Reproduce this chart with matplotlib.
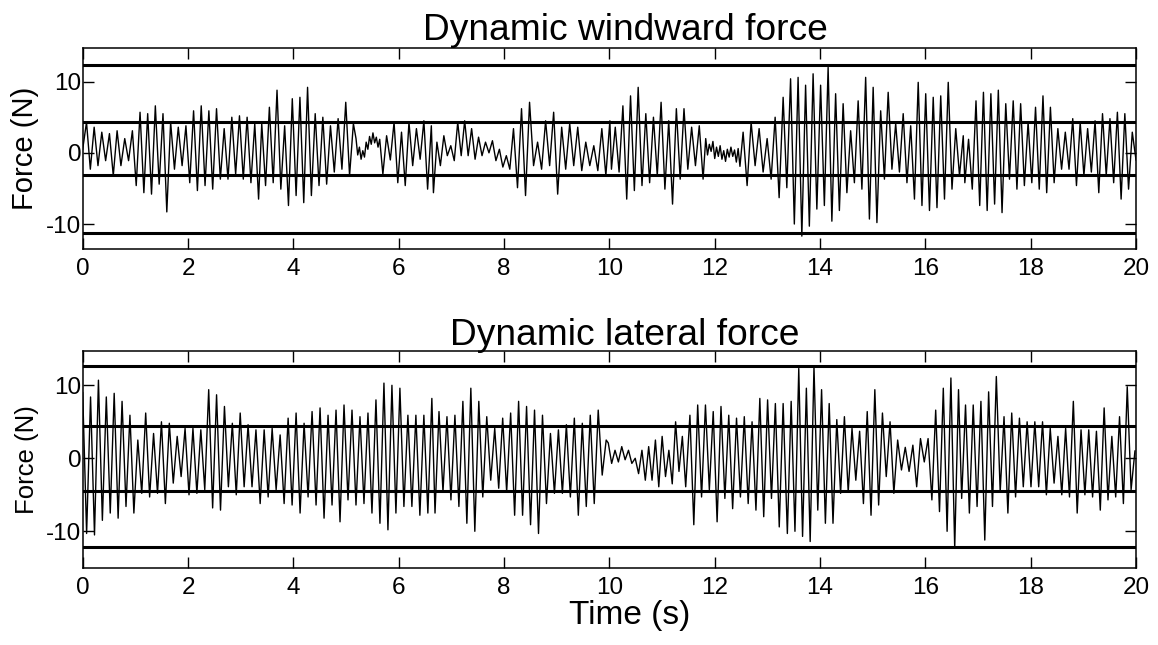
import numpy as np
import matplotlib.pyplot as plt

plt.rcParams['font.family'] = ['Liberation Sans', 'DejaVu Sans']
plt.rcParams['axes.unicode_minus'] = False

# peak / trough values of the windward force, segment by segment
wind_bounds = [(0.0, 3.34), (3.40, 5.14), (5.19, 5.64), (5.70, 6.62), (6.66, 8.11),
               (8.18, 10.01), (10.04, 11.78), (11.83, 12.48), (12.54, 13.30),
               (13.37, 16.72), (16.75, 20.0)]
wind_a = [0.5, 4.3, -2.3, 3.6, -1.8, 2.9, -1.1, 2.7, -3.2, 3.1, -1.8, 2.0, -1.1, 3.1, -4.6, 5.7,
          -5.6, 5.5, -5.8, 6.6, -4.4, 5.5, -8.3, 4.3, -2.3, 3.6, -1.8, 3.8, -4.2, 5.9, -5.3, 6.6,
          -4.6, 5.9, -5.1, 6.2, -3.7, 3.4, -3.7, 5.0, -3.0, 5.2, -3.7, 5.0, -4.2, 4.1, -6.5]
wind_b = [4.1, -4.6, 6.4, -4.2, 8.8, -5.1, 3.8, -7.4, 7.6, -6.0, 7.8, -7.0, 9.2, -6.0, 5.5, -4.6,
          5.0, -4.4, 3.8, -2.7, 4.8, -2.3, 7.1, -3.2, 4.1]
wind_c = [2.0, -0.3, 0.8, -0.9, 0.3, -0.6, 1.5, 0.5, 2.3, 1.2, 2.8, 1.4, 2.2, 0.8, 1.9]
wind_d = [-3.0, 2.4, -1.0, 4.3, -4.2, 2.9, -4.6, 4.3, -1.8, 3.4, -0.9, 4.5, -5.1, 3.8]
wind_e = [-5.6, 1.5, -1.8, 2.4, -0.4, 1.0, -1.1, 4.3, -0.4, 4.5, -0.4, 3.4, -0.9, 2.2, -0.4,
          1.5, 0.0, 1.7, -1.1, 0.5, -2.0, -0.4, -2.3]
wind_f = [3.4, -4.9, 6.2, -6.0, 7.1, -1.8, 1.5, -2.3, 4.5, -1.8, 5.7, -5.8, 3.6, -2.3, 4.1, -1.8,
          3.6, -2.5, 1.5, -1.8, 1.0, -2.5, 3.4, -3.2, 4.5]
wind_g = [-2.3, 3.6, -2.7, 6.6, -6.5, 8.0, -5.3, 9.2, -4.6, 5.5, -4.2, 5.0, -3.2, 7.1, -5.1, 4.5,
          -7.2, 6.2, -3.7, 6.2, -2.3, 3.6, -1.8, 3.8, -3.7]
wind_h = [2.0, -0.3, 1.2, 0.2, 1.6, -0.8, 0.8, -0.5, 1.0, -0.9, 0.3, -1.2, 0.5, -0.6, 0.8, -0.5,
          0.4, -1.3, 0.6, -1.9]
wind_i = [2.9, -4.6, 4.3, -1.8, 3.4, -2.7, 2.0, -3.7, 5.0, -6.3, 7.8]
wind_j = [-4.9, 10.4, -10.0, 10.6, -11.7, 9.5, -10.3, 11.1, -7.9, 9.5, -7.4, 12.0, -9.6, 8.3,
          -8.1, 6.9, -5.6, 3.1, -4.2, 7.3, -5.1, 10.6, -9.3, 9.2, -9.8, 5.9, -3.7, 8.5, -2.3,
          4.1, -2.7, 5.5, -4.2, 3.8, -6.5, 9.9, -7.4, 8.3, -8.1, 7.8, -7.7, 8.0, -6.5, 9.9,
          -5.1, 3.4, -3.2, 2.4]
wind_k = [-4.2, 1.9, -5.1, 7.3, -7.4, 8.5, -8.1, 8.3, -7.2, 8.8, -8.4, 6.9, -3.7, 7.3, -5.1,
          6.9, -4.6, 4.3, -4.2, 6.4, -5.1, 8.0, -5.6, 6.4, -4.2, 3.4, -2.3, 2.9, -2.3, 4.8, -4.6,
          4.3, -3.2, 3.4, -2.7, 4.5, -5.6, 5.5, -3.2, 4.8, -4.2, 5.7, -6.5, 5.5, -5.1, 2.9, -1.0]
wind_segs = [wind_a, wind_b, wind_c, wind_d, wind_e, wind_f, wind_g, wind_h, wind_i, wind_j, wind_k]

# peak / trough values of the lateral force
lat_bounds = [(0.0, 3.29), (3.37, 6.63), (6.69, 9.94), (9.98, 11.45), (11.53, 13.30),
              (13.38, 16.63), (16.69, 19.98)]
lat_a = [9.0, -10.3, 8.4, -10.5, 10.7, -8.5, 8.4, -7.5, 8.9, -8.2, 7.8, -6.6, 5.9, -7.5, 2.5,
         -4.8, 6.2, -5.3, 3.4, -4.8, 5.0, -6.2, 4.8, -3.4, 3.0, -2.5, 4.1, -5.0, 4.1, -4.8, 3.9,
         -4.3, 9.4, -6.8, 8.7, -7.1, 7.1, -3.9, 4.8, -5.0, 6.2, -3.9, 4.6, -3.9, 3.9]
lat_b = [-6.2, 3.9, -5.3, 4.1, -4.3, 3.2, -6.2, 5.5, -6.4, 6.2, -7.5, 4.8, -5.3, 6.4, -6.4, 6.9,
         -8.2, 5.9, -6.4, 6.6, -8.7, 7.3, -5.7, 6.6, -6.4, 5.7, -6.2, 6.2, -7.5, 8.0, -8.9, 10.3,
         -9.8, 10.0, -7.5, 9.6, -6.6, 5.9, -6.6, 5.9, -7.8, 5.9, -7.5, 8.2]
lat_c = [-7.5, 6.4, -4.6, 5.7, -5.7, 5.9, -6.6, 7.8, -8.9, 9.6, -10.0, 7.8, -5.3, 5.7, -3.0, 4.1,
         -4.1, 5.5, -4.6, 6.2, -7.8, 7.8, -7.8, 7.1, -9.1, 6.6, -10.3, 5.9, -6.2, 3.4, -4.8, 3.9,
         -4.8, 4.6, -5.3, 5.5, -7.8, 4.8, -6.6, 5.9, -6.2, 6.6, -2.3, 2.5]
lat_d = [2.1, -0.7, 1.1, -0.5, 1.6, -0.2, 1.1, -0.7, 0.0, -2.1, 1.1, -3.0, 1.6, -3.0, 2.5, -3.9,
         3.0, -2.5, 1.1, -3.5, 5.0, -1.8, 3.0, -3.9]
lat_e = [5.9, -9.1, 7.3, -5.3, 7.3, -4.3, 6.4, -8.7, 7.1, -5.5, 5.9, -6.9, 5.5, -5.3, 5.7, -6.2,
         5.0, -7.1, 8.2, -8.0, 8.0, -5.5, 7.5, -9.4, 7.5]
lat_f = [-10.3, 7.8, -10.0, 12.3, -10.7, 9.6, -11.4, 12.6, -7.1, 9.4, -8.9, 7.5, -8.9, 5.3, -4.8,
         5.7, -4.6, 4.1, -3.0, 3.7, -6.2, 6.4, -7.8, 9.4, -6.4, 6.2, -2.5, 5.0, -4.8, 2.5, -1.6,
         1.5, -1.8, 1.8, -3.9, 2.7, -0.5, 2.7, -5.7, 6.6, -7.3, 9.6, -10.0, 11.0, -12.3, 9.4]
lat_g = [-5.5, 7.3, -7.5, 7.3, -6.6, 7.8, -11.2, 9.1, -6.6, 11.2, -4.6, 5.7, -7.5, 6.2, -5.3, 5.5,
         -3.9, 5.0, -3.9, 5.0, -3.9, 5.0, -5.0, 4.1, -3.4, 3.0, -5.0, 4.1, -5.3, 7.8, -7.5, 3.9,
         -5.0, 3.9, -5.3, 3.7, -7.1, 6.9, -5.7, 3.0, -5.3, 5.7, -6.2, 9.8, -4.3, 1.0]
lat_segs = [lat_a, lat_b, lat_c, lat_d, lat_e, lat_f, lat_g]

# reference levels drawn as thick lines
wind_levels = [12.3, 4.35, -3.1, -11.3]
lat_levels = [12.64, 4.42, -4.44, -12.19]

titles = ['Dynamic windward force', 'Dynamic lateral force']
xticks = [0, 2, 4, 6, 8, 10, 12, 14, 16, 18, 20]


def series(bounds, segs):
    t, v = [], []
    for (t0, t1), vals in zip(bounds, segs):
        t.extend(np.linspace(t0, t1, len(vals)))
        v.extend(vals)
    return np.array(t), np.array(v)


fig = plt.figure(figsize=(11.58, 6.45), dpi=100)
ax1 = fig.add_axes([0.0714, 0.6135, 0.9096, 0.3116])
ax2 = fig.add_axes([0.0714, 0.1189, 0.9096, 0.3374])

setups = [
    (ax1, wind_bounds, wind_segs, wind_levels, (-13.55, 14.68), 21, 6),
    (ax2, lat_bounds, lat_segs, lat_levels, (-15.07, 14.74), 18.5, 4),
]
for i, (ax, bounds, segs, levels, ylim, ylab_size, tpad) in enumerate(setups):
    t, v = series(bounds, segs)
    ax.plot(t, v, color='black', lw=1.0)
    for lv in levels:
        ax.axhline(lv, color='black', lw=2.2)
    ax.set_xlim(0, 20)
    ax.set_ylim(*ylim)
    ax.set_xticks(xticks)
    ax.set_yticks([-10, 0, 10])
    ax.tick_params(direction='in', top=True, right=True, length=8, width=1,
                   labelsize=17.5, pad=6)
    ax.tick_params(axis='y', pad=1)
    for s in ax.spines.values():
        s.set_linewidth(1.1)
    ax.set_ylabel('Force (N)', fontsize=ylab_size, labelpad=5)
    ax.set_title(titles[i], fontsize=26.7, x=0.515, pad=tpad)

ax2.set_xlabel('Time (s)', fontsize=24, labelpad=1, x=0.519)

fig.savefig('out.png', dpi=100)
